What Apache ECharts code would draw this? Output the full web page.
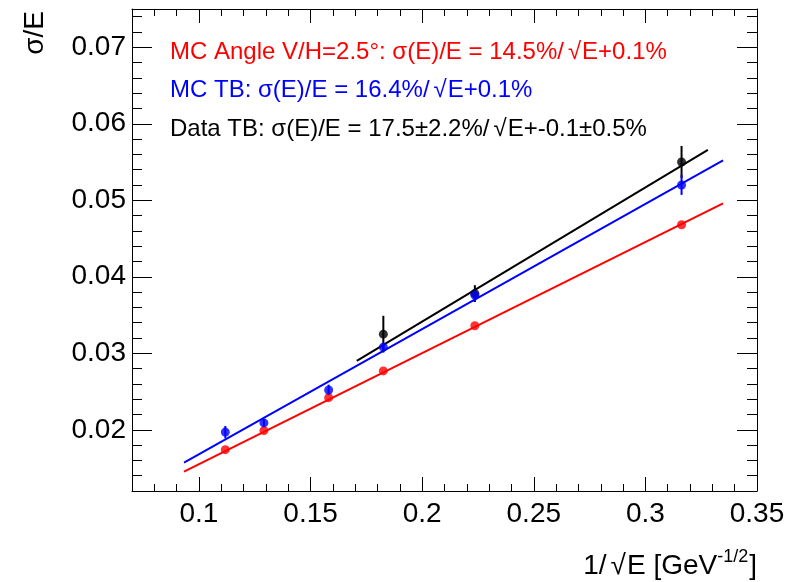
<!DOCTYPE html>
<html>
<head>
<meta charset="utf-8">
<script src="https://cdn.jsdelivr.net/npm/echarts@6/dist/echarts.min.js"></script>
<style>
  html, body { margin: 0; padding: 0; background: #fff; }
  #chart { width: 798px; height: 582px; }
</style>
</head>
<body>
<div id="chart"></div>
<script>
// Energy points expressed as 1/sqrt(E) for E = 80, 60, 40, 30, 20, 10 GeV
const invSqrtE = [0.1118, 0.1291, 0.1581, 0.1826, 0.2236, 0.3162];

// Simulation, tilted module (V/H = 2.5 deg)
const mcAngleRes = [0.0174, 0.0199, 0.0242, 0.0277, 0.0336, 0.0468];

// Simulation of the test-beam setup
const mcTbRes = [0.0197, 0.0209, 0.0252, 0.0308, 0.0376, 0.0520];
const mcTbErr = [0.0008, 0.0005, 0.0007, 0.0006, 0.0008, 0.0013];

// Test-beam data
const dataInvSqrtE = [0.1826, 0.2236, 0.3162];
const dataRes = [0.0325, 0.0378, 0.0550];
const dataErr = [0.0024, 0.0011, 0.0021];

// Fitted resolution curves, [start, end] in (1/sqrt(E), sigma/E)
const mcAngleFitX = [0.0933, 0.3348];
const mcAngleFitY = [0.01452, 0.0496];
const mcTbFitX = [0.0933, 0.3348];
const mcTbFitY = [0.0157, 0.0552];
const dataFitX = [0.1707, 0.328];
const dataFitY = [0.0290, 0.0566];

// Axis ticks
const xMajorTicks = [0.1, 0.15, 0.2, 0.25, 0.3, 0.35];
const xMinorTicks = [0.07, 0.08, 0.09, 0.11, 0.12, 0.13, 0.14, 0.16, 0.17, 0.18, 0.19,
  0.21, 0.22, 0.23, 0.24, 0.26, 0.27, 0.28, 0.29, 0.31, 0.32, 0.33, 0.34];
const yMajorTicks = [0.02, 0.03, 0.04, 0.05, 0.06, 0.07];
const yMinorTicks = [0.014, 0.016, 0.018, 0.022, 0.024, 0.026, 0.028, 0.032, 0.034, 0.036,
  0.038, 0.042, 0.044, 0.046, 0.048, 0.052, 0.054, 0.056, 0.058, 0.062, 0.064, 0.066,
  0.068, 0.072, 0.074];

// Legend lines; {r|...} marks the radical sign, drawn a little wider
const legendLines = [
  { text: 'MC Angle V/H=2.5°: σ(E)/E = 14.5%/{r|√}E+0.1%', color: '#ff0000' },
  { text: 'MC TB: σ(E)/E = 16.4%/{r|√}E+0.1%', color: '#0000ff' },
  { text: 'Data TB: σ(E)/E = 17.5±2.2%/{r|√}E+-0.1±0.5%', color: '#000000' }
];

const FONT = '"Liberation Sans", Arial, Helvetica, sans-serif';
const X_MIN = 0.07, X_MAX = 0.35, Y_MIN = 0.012, Y_MAX = 0.075;

const chart = echarts.init(document.getElementById('chart'), null, { renderer: 'canvas' });

function pairs(xs, ys) { return xs.map((x, i) => [x, ys[i]]); }

function makeAxis(dim, position, ticks, len, withLine, labels) {
  const ax = {
    type: 'value', position: position,
    min: dim === 'x' ? X_MIN : Y_MIN,
    max: dim === 'x' ? X_MAX : Y_MAX,
    axisLine: { show: withLine, onZero: false, lineStyle: { color: '#000', width: 1 } },
    axisTick: { show: true, inside: true, length: len, customValues: ticks,
      lineStyle: { color: '#000', width: 1 } },
    axisLabel: { show: false },
    splitLine: { show: false },
    minorTick: { show: false },
    z: 10
  };
  if (labels) {
    ax.axisLabel = {
      show: true, customValues: ticks, fontFamily: FONT, fontSize: 28, color: '#000',
      margin: dim === 'x' ? 9 : 6,
      formatter: v => String(parseFloat(v.toFixed(3)))
    };
  }
  return ax;
}

function errorBars(xs, ys, es, color) {
  return {
    type: 'custom',
    data: xs.map((x, i) => [x, ys[i], es[i]]),
    renderItem: (params, api) => {
      const x = api.value(0), y = api.value(1), e = api.value(2);
      const p1 = api.coord([x, y - e]);
      const p2 = api.coord([x, y + e]);
      return {
        type: 'line',
        shape: { x1: p1[0], y1: p1[1], x2: p2[0], y2: p2[1] },
        style: { stroke: color, lineWidth: 2 }
      };
    },
    silent: true,
    z: 3
  };
}

function fitLine(xs, ys, color) {
  return {
    type: 'line', data: pairs(xs, ys), symbol: 'none', silent: true,
    lineStyle: { color: color, width: 2 }, z: 2
  };
}

function markers(xs, ys, color) {
  return {
    type: 'scatter', data: pairs(xs, ys), symbol: 'circle', symbolSize: 9,
    itemStyle: { color: color }, silent: true, z: 4
  };
}

const option = {
  backgroundColor: '#fff',
  animation: false,
  grid: { left: 132, right: 41, top: 9, bottom: 91, containLabel: false },
  xAxis: [
    makeAxis('x', 'bottom', xMajorTicks, 14, true, true),
    makeAxis('x', 'bottom', xMinorTicks, 7, false, false),
    makeAxis('x', 'top', xMajorTicks, 14, true, false),
    makeAxis('x', 'top', xMinorTicks, 7, false, false)
  ],
  yAxis: [
    makeAxis('y', 'left', yMajorTicks, 20, true, true),
    makeAxis('y', 'left', yMinorTicks, 10, false, false),
    makeAxis('y', 'right', yMajorTicks, 20, true, false),
    makeAxis('y', 'right', yMinorTicks, 10, false, false)
  ],
  series: [
    fitLine(mcAngleFitX, mcAngleFitY, '#ff0000'),
    markers(invSqrtE, mcAngleRes, '#ff0000'),
    fitLine(dataFitX, dataFitY, '#000000'),
    errorBars(dataInvSqrtE, dataRes, dataErr, '#000000'),
    markers(dataInvSqrtE, dataRes, '#000000'),
    fitLine(mcTbFitX, mcTbFitY, '#0000ff'),
    errorBars(invSqrtE, mcTbRes, mcTbErr, '#0000ff'),
    markers(invSqrtE, mcTbRes, '#0000ff')
  ],
  graphic: [
    // y-axis title, rotated, flush with the top of the frame
    {
      type: 'text', x: 35, y: 11, rotation: Math.PI / 2,
      style: { text: 'σ/E', font: '28px ' + FONT, fill: '#000',
        align: 'right', verticalAlign: 'middle' }
    },
    // x-axis title, flush with the right end of the axis
    {
      type: 'text', x: 757, y: 580,
      style: {
        text: '{m|1/}{r|√}{m|E [GeV}{s|-1/2}{m|]}',
        align: 'right', verticalAlign: 'bottom',
        rich: {
          m: { font: '28px ' + FONT, fill: '#000', lineHeight: 32, verticalAlign: 'bottom' },
          r: { font: '28px ' + FONT, fill: '#000', lineHeight: 32, verticalAlign: 'bottom', padding: [0, 1, 0, 4] },
          s: { font: '18px ' + FONT, fill: '#000', lineHeight: 32, verticalAlign: 'top', padding: [0, 1, 0, 0] }
        }
      }
    }
  ].concat(legendLines.map((l, i) => ({
    type: 'text', x: 170, y: 52 + i * 38.5,
    style: {
      text: l.text, font: '24px ' + FONT, fill: l.color, verticalAlign: 'middle', align: 'left',
      rich: { r: { font: '24px ' + FONT, fill: l.color, padding: [0, 1, 0, 4] } }
    }
  })))
};

chart.setOption(option);
</script>
</body>
</html>
